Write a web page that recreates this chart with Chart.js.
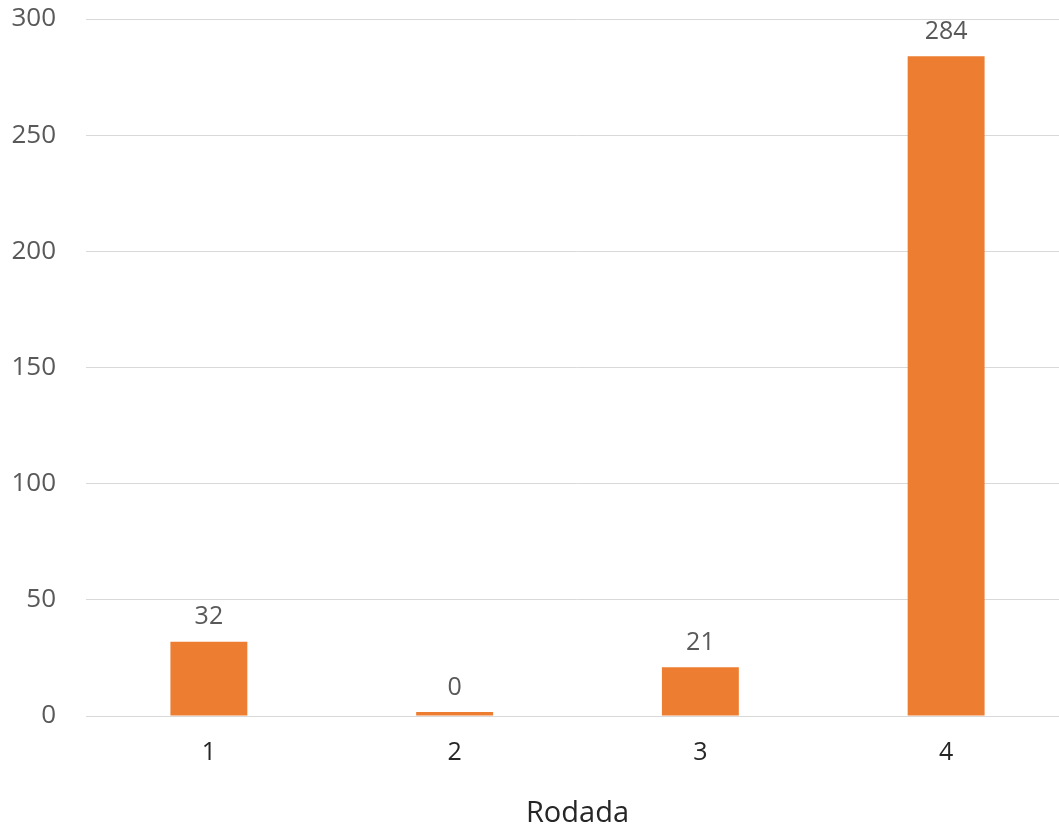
<!DOCTYPE html>
<html>
<head>
<meta charset="utf-8">
<script src="https://cdn.jsdelivr.net/npm/chart.js@4/dist/chart.umd.min.js"></script>
<style>
  html, body { margin: 0; padding: 0; background: #fff; }
  #wrap { width: 1059px; height: 829px; overflow: hidden; }
</style>
</head>
<body>
<div id="wrap"><canvas id="myChart" width="1069" height="829"></canvas></div>
<script>
// data
var rodadas = ["1", "2", "3", "4"];
var valores = [32, 0, 21, 284];
var yTicks = [0, 50, 100, 150, 200, 250, 300];

var fontFam = "'Open Sans', 'Liberation Sans', sans-serif";

// value labels above each bar
var barLabels = {
    id: "barLabels",
    afterDatasetsDraw: function(chart) {
        var ctx = chart.ctx;
        var meta = chart.getDatasetMeta(0);
        ctx.save();
        ctx.font = "25px " + fontFam;
        ctx.fillStyle = "#595959";
        ctx.textAlign = "center";
        ctx.textBaseline = "bottom";
        meta.data.forEach(function(bar, i) {
            ctx.fillText(String(valores[i]), bar.x, bar.y - 12);
        });
        ctx.restore();
    }
};

new Chart("myChart", {
    type: "bar",
    data: {
        labels: rodadas,
        datasets: [{
            data: valores,
            backgroundColor: "#ED7D31",
            borderWidth: 0,
            minBarLength: 4,
            categoryPercentage: 1,
            barPercentage: 0.313
        }]
    },
    options: {
        responsive: false,
        animation: false,
        layout: { padding: { top: 19, right: 0, left: 0, bottom: 0 } },
        plugins: {
            legend: { display: false },
            tooltip: { enabled: false }
        },
        scales: {
            y: {
                min: 0,
                max: 300,
                afterBuildTicks: function(axis) {
                    axis.ticks = yTicks.map(function(v) { return { value: v }; });
                },
                afterFit: function(axis) {
                    axis.width = 86;
                    axis.paddingTop = 0;
                    axis.paddingBottom = 0;
                },
                border: { display: false },
                grid: { color: "#d9d9d9", lineWidth: 1, drawTicks: false },
                ticks: {
                    padding: 30,
                    color: "#595959",
                    font: { family: fontFam, size: 26 }
                }
            },
            x: {
                afterFit: function(axis) {
                    axis.height = 113;
                    axis.paddingLeft = 0;
                    axis.paddingRight = 0;
                },
                border: { display: true, color: "#d9d9d9" },
                grid: { display: false, drawTicks: false },
                ticks: {
                    padding: 22,
                    color: "#262626",
                    font: { family: fontFam, size: 25 }
                },
                title: {
                    display: true,
                    text: "Rodada",
                    color: "#262626",
                    padding: { top: 4, bottom: -2 },
                    font: { family: fontFam, size: 29 }
                }
            }
        }
    },
    plugins: [barLabels]
});
</script>
</body>
</html>
